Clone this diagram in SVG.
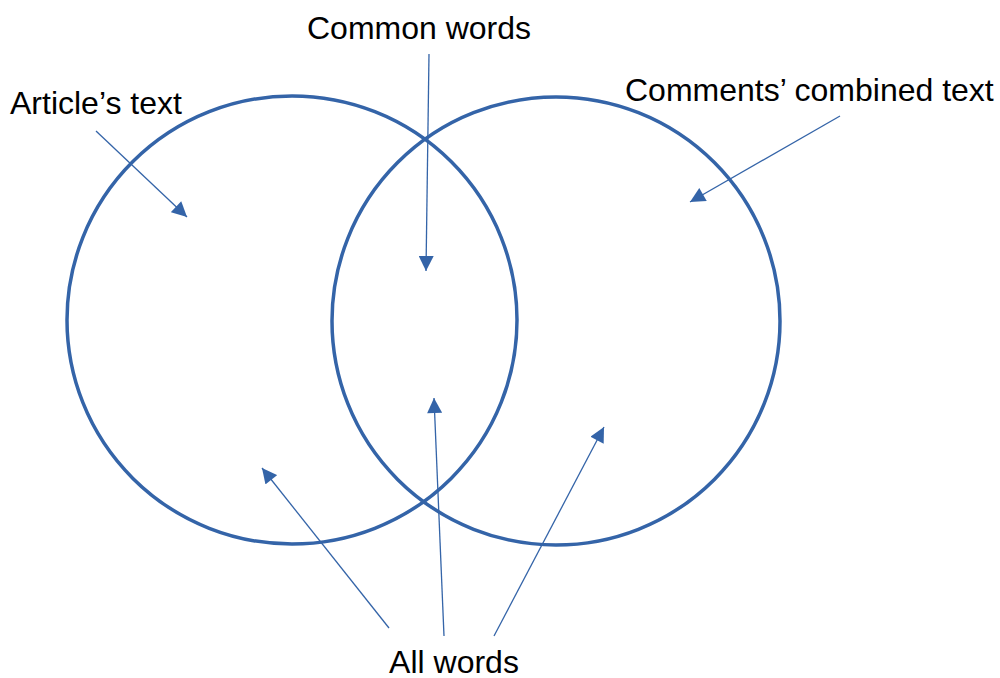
<svg xmlns="http://www.w3.org/2000/svg" width="1000" height="678" viewBox="0 0 1000 678">
<style>
.circ{fill:none;stroke:#3464a8;stroke-width:3.5}
.arr{fill:none;stroke:#3464a8;stroke-width:1.3;marker-end:url(#ah)}
.lbl{font-family:"Liberation Sans",Arial,sans-serif;font-size:32px;fill:#000}
</style>
<defs>
<marker id="ah" viewBox="0 0 10 10" refX="10" refY="5" markerWidth="16" markerHeight="15" markerUnits="userSpaceOnUse" orient="auto"><path d="M0,0 L10,5 L0,10 z" fill="#3464a8"/></marker>
</defs>
<rect width="1000" height="678" fill="#fff"/>
<g id="left-circle"><ellipse class="circ" cx="292" cy="320" rx="225" ry="224"/></g>
<g id="right-circle"><ellipse class="circ" cx="556" cy="321" rx="224" ry="224"/></g>
<g id="label-common"><text class="lbl" x="419" y="39" text-anchor="middle">Common words</text></g>
<g id="label-article"><text class="lbl" x="10" y="114">Article’s text</text></g>
<g id="label-comments"><text class="lbl" x="625" y="101">Comments’ combined text</text></g>
<g id="label-all"><text class="lbl" x="454" y="673" text-anchor="middle">All words</text></g>
<g id="connectors">
<line class="arr" x1="96" y1="131" x2="187" y2="217"/>
<line class="arr" x1="429" y1="54" x2="426" y2="271"/>
<line class="arr" x1="840" y1="116" x2="690" y2="202"/>
<line class="arr" x1="389" y1="628" x2="262" y2="468"/>
<line class="arr" x1="444" y1="636" x2="434" y2="398"/>
<line class="arr" x1="494" y1="636" x2="604" y2="427"/>
</g>
</svg>
